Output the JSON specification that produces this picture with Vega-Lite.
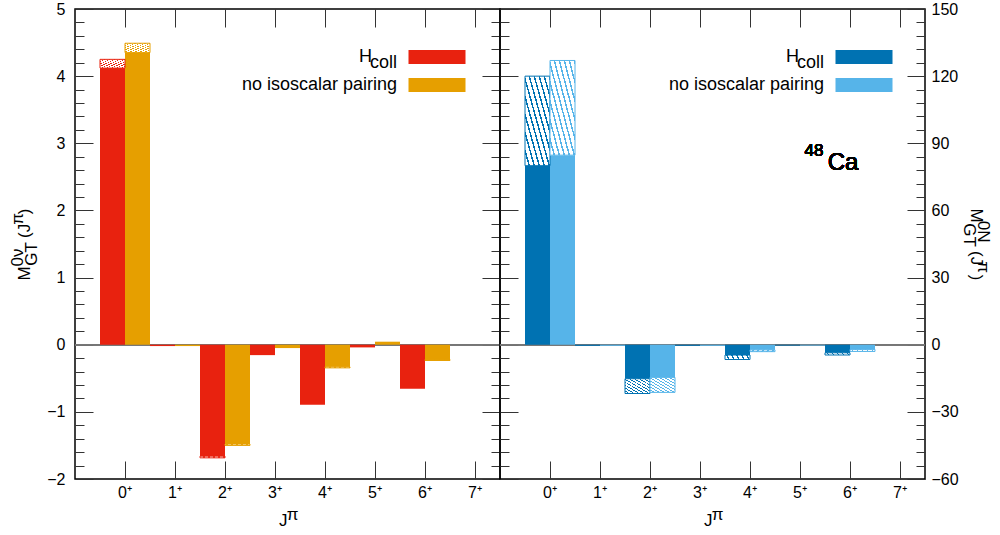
{
  "$schema": "https://vega.github.io/schema/vega-lite/v6.json",
  "background": "white",
  "padding": {"left": 8, "top": 0, "right": 0, "bottom": 5},
  "bounds": "flush",
  "spacing": 0,
  "config": {
    "font": "Liberation Sans",
    "view": {"stroke": "black", "strokeWidth": 1.5},
    "axis": {"domain": false, "grid": false, "labelFontSize": 16, "labelColor": "black", "titleFontSize": 17, "titleFontWeight": "normal", "titleColor": "black", "tickColor": "#333", "tickWidth": 1, "labelOverlap": false, "labelFlush": false},
    "style": {"guide-label": {"lineHeight": 6}}
  },
  "resolve": {"scale": {"color": "independent"}},
  "datasets": {
    "m0v": [
      {"J": "0⁺", "s": "Hcoll", "v": 4.12, "t": 4.25},
      {"J": "0⁺", "s": "no isoscalar pairing", "v": 4.35, "t": 4.49},
      {"J": "1⁺", "s": "Hcoll", "v": -0.02, "t": -0.02},
      {"J": "1⁺", "s": "no isoscalar pairing", "v": -0.02, "t": -0.02},
      {"J": "2⁺", "s": "Hcoll", "v": -1.66, "t": -1.685},
      {"J": "2⁺", "s": "no isoscalar pairing", "v": -1.48, "t": -1.5},
      {"J": "3⁺", "s": "Hcoll", "v": -0.155, "t": -0.155},
      {"J": "3⁺", "s": "no isoscalar pairing", "v": -0.05, "t": -0.05},
      {"J": "4⁺", "s": "Hcoll", "v": -0.895, "t": -0.895},
      {"J": "4⁺", "s": "no isoscalar pairing", "v": -0.33, "t": -0.345},
      {"J": "5⁺", "s": "Hcoll", "v": -0.04, "t": -0.04},
      {"J": "5⁺", "s": "no isoscalar pairing", "v": 0.045, "t": 0.045},
      {"J": "6⁺", "s": "Hcoll", "v": -0.655, "t": -0.655},
      {"J": "6⁺", "s": "no isoscalar pairing", "v": -0.22, "t": -0.235},
      {"J": "7⁺", "s": "Hcoll", "v": 0, "t": 0},
      {"J": "7⁺", "s": "no isoscalar pairing", "v": 0, "t": 0}
    ],
    "m0n": [
      {"J": "0⁺", "s": "Hcoll", "v": 80, "t": 120},
      {"J": "0⁺", "s": "no isoscalar pairing", "v": 84.7, "t": 127},
      {"J": "1⁺", "s": "Hcoll", "v": -0.5, "t": -0.5},
      {"J": "1⁺", "s": "no isoscalar pairing", "v": -0.5, "t": -0.5},
      {"J": "2⁺", "s": "Hcoll", "v": -15.2, "t": -21.8},
      {"J": "2⁺", "s": "no isoscalar pairing", "v": -14.6, "t": -21.3},
      {"J": "3⁺", "s": "Hcoll", "v": -0.5, "t": -0.5},
      {"J": "3⁺", "s": "no isoscalar pairing", "v": -0.5, "t": -0.5},
      {"J": "4⁺", "s": "Hcoll", "v": -4.6, "t": -6.6},
      {"J": "4⁺", "s": "no isoscalar pairing", "v": -2.3, "t": -3.1},
      {"J": "5⁺", "s": "Hcoll", "v": -0.4, "t": -0.4},
      {"J": "5⁺", "s": "no isoscalar pairing", "v": -0.4, "t": -0.4},
      {"J": "6⁺", "s": "Hcoll", "v": -3.6, "t": -4.6},
      {"J": "6⁺", "s": "no isoscalar pairing", "v": -2.1, "t": -3.0},
      {"J": "7⁺", "s": "Hcoll", "v": 0, "t": 0},
      {"J": "7⁺", "s": "no isoscalar pairing", "v": 0, "t": 0}
    ]
  },
  "hconcat": [
    {
      "width": 425,
      "height": 470,
      "data": {"name": "m0v"},
      "resolve": {"axis": {"x": "independent", "y": "independent"}},
      "layer": [
        {
          "mark": {"type": "rule", "color": "#777", "strokeWidth": 1},
          "encoding": {
            "y": {"datum": 0, "type": "quantitative", "scale": {"domain": [-2, 5], "nice": false, "zero": false}, "axis": null}
          }
        },
        {
          "mark": {"type": "bar"},
          "encoding": {
            "x": {"field": "J", "type": "nominal", "sort": null,
              "scale": {"domain": ["0⁺", "1⁺", "2⁺", "3⁺", "4⁺", "5⁺", "6⁺", "7⁺"], "paddingInner": 0, "paddingOuter": 0.25, "align": 1},
              "axis": {"orient": "bottom", "labelAngle": 0, "tickSize": -18, "labelPadding": 23, "title": ["\u200b\u00a0\u00a0π\u200b", "\u200bJ\u00a0\u00a0\u200b"], "titleLineHeight": 6, "titlePadding": 6}},
            "xOffset": {"field": "s", "type": "nominal", "sort": null, "scale": {"domain": ["Hcoll", "no isoscalar pairing"], "paddingInner": 0, "paddingOuter": 0}},
            "y": {"field": "v", "type": "quantitative", "scale": {"domain": [-2, 5], "nice": false, "zero": false},
              "axis": {"orient": "left",
                "values": [-2, -1.8, -1.6, -1.4, -1.2, -1, -0.8, -0.6, -0.4, -0.2, 0, 0.2, 0.4, 0.6, 0.8, 1, 1.2, 1.4, 1.6, 1.8, 2, 2.2, 2.4, 2.6, 2.8, 3, 3.2, 3.4, 3.6, 3.8, 4, 4.2, 4.4, 4.6, 4.8, 5],
                "tickSize": {"condition": {"test": "abs(datum.value - round(datum.value)) < 0.001", "value": -18}, "value": -9},
                "labelExpr": "abs(datum.value - round(datum.value)) < 0.001 ? format(datum.value, 'd') : ''",
                "labelPadding": 28,
                "title": ["\u200b\u00a0\u00a0\u00a00ν\u00a0\u00a0\u00a0\u00a0\u00a0π\u00a0\u200b", "\u200bM\u00a0\u00a0\u00a0\u00a0\u00a0\u00a0(J\u00a0\u00a0)\u200b", "\u200b\u00a0\u00a0\u00a0GT\u00a0\u00a0\u00a0\u00a0\u00a0\u00a0\u00a0\u200b"],
                "titleLineHeight": 7, "titlePadding": 6}},
            "y2": {"datum": 0},
            "color": {"field": "s", "type": "nominal", "scale": {"domain": ["Hcoll", "no isoscalar pairing"], "range": ["#e8220f", "#e69f00"]},
              "legend": {"orient": "none", "legendX": 352, "legendY": 38, "title": null, "labelFontSize": 18, "labelColor": "black",
                "symbolType": "M-2.85,-0.7H2.85V0.7H-2.85Z", "symbolSize": 400, "symbolStrokeWidth": 0, "symbolOpacity": 1,
                "labelAlign": "right", "labelOffset": -50, "rowPadding": 3, "labelLimit": 0,
                "labelExpr": "datum.label === 'Hcoll' ? ['\u200bH\u00a0\u00a0\u00a0\u00a0\u00a0\u200b', '\u200bcoll\u200b'] : datum.label"}}
          }
        },
        {
          "transform": [{"filter": "datum.t != datum.v"}],
          "mark": {"type": "bar", "strokeWidth": 1},
          "encoding": {
            "x": {"field": "J", "type": "nominal", "sort": null,
              "scale": {"domain": ["0⁺", "1⁺", "2⁺", "3⁺", "4⁺", "5⁺", "6⁺", "7⁺"], "paddingInner": 0, "paddingOuter": 0.25, "align": 1},
              "axis": {"orient": "top", "labels": false, "tickSize": -18, "title": null}},
            "xOffset": {"field": "s", "type": "nominal", "sort": null, "scale": {"domain": ["Hcoll", "no isoscalar pairing"], "paddingInner": 0, "paddingOuter": 0}},
            "y": {"field": "v", "type": "quantitative", "scale": {"domain": [-2, 5], "nice": false, "zero": false},
              "axis": {"orient": "right",
                "values": [-2, -1.8, -1.6, -1.4, -1.2, -1, -0.8, -0.6, -0.4, -0.2, 0, 0.2, 0.4, 0.6, 0.8, 1, 1.2, 1.4, 1.6, 1.8, 2, 2.2, 2.4, 2.6, 2.8, 3, 3.2, 3.4, 3.6, 3.8, 4, 4.2, 4.4, 4.6, 4.8, 5],
                "tickSize": {"condition": {"test": "abs(datum.value - round(datum.value)) < 0.001", "value": -18}, "value": -9},
                "labels": false, "title": null}},
            "y2": {"field": "t"},
            "fill": {"condition": {"test": "datum.s === 'Hcoll'", "value": {"gradient": "linear", "x1": 1, "y1": 0, "x2": 0, "y2": 1, "stops": [{"offset":0,"color":"#e8220f"},{"offset":0.03,"color":"#e8220f"},{"offset":0.03,"color":"#fff"},{"offset":0.1,"color":"#fff"},{"offset":0.1,"color":"#e8220f"},{"offset":0.13,"color":"#e8220f"},{"offset":0.13,"color":"#fff"},{"offset":0.2,"color":"#fff"},{"offset":0.2,"color":"#e8220f"},{"offset":0.23,"color":"#e8220f"},{"offset":0.23,"color":"#fff"},{"offset":0.3,"color":"#fff"},{"offset":0.3,"color":"#e8220f"},{"offset":0.33,"color":"#e8220f"},{"offset":0.33,"color":"#fff"},{"offset":0.4,"color":"#fff"},{"offset":0.4,"color":"#e8220f"},{"offset":0.43,"color":"#e8220f"},{"offset":0.43,"color":"#fff"},{"offset":0.5,"color":"#fff"},{"offset":0.5,"color":"#e8220f"},{"offset":0.53,"color":"#e8220f"},{"offset":0.53,"color":"#fff"},{"offset":0.6,"color":"#fff"},{"offset":0.6,"color":"#e8220f"},{"offset":0.63,"color":"#e8220f"},{"offset":0.63,"color":"#fff"},{"offset":0.7,"color":"#fff"},{"offset":0.7,"color":"#e8220f"},{"offset":0.73,"color":"#e8220f"},{"offset":0.73,"color":"#fff"},{"offset":0.8,"color":"#fff"},{"offset":0.8,"color":"#e8220f"},{"offset":0.83,"color":"#e8220f"},{"offset":0.83,"color":"#fff"},{"offset":0.9,"color":"#fff"},{"offset":0.9,"color":"#e8220f"},{"offset":0.93,"color":"#e8220f"},{"offset":0.93,"color":"#fff"},{"offset":1,"color":"#fff"}]}},
              "value": {"gradient": "linear", "x1": 1, "y1": 0, "x2": 0, "y2": 1, "stops": [{"offset":0,"color":"#e69f00"},{"offset":0.03,"color":"#e69f00"},{"offset":0.03,"color":"#fff"},{"offset":0.1,"color":"#fff"},{"offset":0.1,"color":"#e69f00"},{"offset":0.13,"color":"#e69f00"},{"offset":0.13,"color":"#fff"},{"offset":0.2,"color":"#fff"},{"offset":0.2,"color":"#e69f00"},{"offset":0.23,"color":"#e69f00"},{"offset":0.23,"color":"#fff"},{"offset":0.3,"color":"#fff"},{"offset":0.3,"color":"#e69f00"},{"offset":0.33,"color":"#e69f00"},{"offset":0.33,"color":"#fff"},{"offset":0.4,"color":"#fff"},{"offset":0.4,"color":"#e69f00"},{"offset":0.43,"color":"#e69f00"},{"offset":0.43,"color":"#fff"},{"offset":0.5,"color":"#fff"},{"offset":0.5,"color":"#e69f00"},{"offset":0.53,"color":"#e69f00"},{"offset":0.53,"color":"#fff"},{"offset":0.6,"color":"#fff"},{"offset":0.6,"color":"#e69f00"},{"offset":0.63,"color":"#e69f00"},{"offset":0.63,"color":"#fff"},{"offset":0.7,"color":"#fff"},{"offset":0.7,"color":"#e69f00"},{"offset":0.73,"color":"#e69f00"},{"offset":0.73,"color":"#fff"},{"offset":0.8,"color":"#fff"},{"offset":0.8,"color":"#e69f00"},{"offset":0.83,"color":"#e69f00"},{"offset":0.83,"color":"#fff"},{"offset":0.9,"color":"#fff"},{"offset":0.9,"color":"#e69f00"},{"offset":0.93,"color":"#e69f00"},{"offset":0.93,"color":"#fff"},{"offset":1,"color":"#fff"}]}},
            "stroke": {"condition": {"test": "datum.s === 'Hcoll'", "value": "#e8220f"}, "value": "#e69f00"}
          }
        }
      ]
    },
    {
      "width": 425,
      "height": 470,
      "data": {"name": "m0n"},
      "resolve": {"axis": {"x": "independent", "y": "independent"}},
      "layer": [
        {
          "mark": {"type": "rule", "color": "#777", "strokeWidth": 1},
          "encoding": {
            "y": {"datum": 0, "type": "quantitative", "scale": {"domain": [-60, 150], "nice": false, "zero": false}, "axis": null}
          }
        },
        {
          "mark": {"type": "bar"},
          "encoding": {
            "x": {"field": "J", "type": "nominal", "sort": null,
              "scale": {"domain": ["0⁺", "1⁺", "2⁺", "3⁺", "4⁺", "5⁺", "6⁺", "7⁺"], "paddingInner": 0, "paddingOuter": 0.25, "align": 1},
              "axis": {"orient": "bottom", "labelAngle": 0, "tickSize": -18, "labelPadding": 23, "title": ["\u200b\u00a0\u00a0π\u200b", "\u200bJ\u00a0\u00a0\u200b"], "titleLineHeight": 6, "titlePadding": 6}},
            "xOffset": {"field": "s", "type": "nominal", "sort": null, "scale": {"domain": ["Hcoll", "no isoscalar pairing"], "paddingInner": 0, "paddingOuter": 0}},
            "y": {"field": "v", "type": "quantitative", "scale": {"domain": [-60, 150], "nice": false, "zero": false},
              "axis": {"orient": "right",
                "values": [-60, -54, -48, -42, -36, -30, -24, -18, -12, -6, 0, 6, 12, 18, 24, 30, 36, 42, 48, 54, 60, 66, 72, 78, 84, 90, 96, 102, 108, 114, 120, 126, 132, 138, 144, 150],
                "tickSize": {"condition": {"test": "datum.value % 30 === 0", "value": -18}, "value": -9},
                "labelExpr": "datum.value % 30 === 0 ? format(datum.value, 'd') : ''",
                "labelPadding": 24,
                "title": ["\u200b\u00a0\u00a0\u00a00N\u00a0\u00a0\u00a0\u00a0π\u00a0\u00a0\u200b", "\u200bM\u00a0\u00a0\u00a0\u00a0\u00a0\u00a0(J\u00a0\u00a0)\u200b", "\u200b\u00a0\u00a0\u00a0GT\u00a0\u00a0\u00a0\u00a0\u00a0\u00a0\u00a0\u200b"],
                "titleAngle": 90,
                "titleLineHeight": 7, "titlePadding": 1}},
            "y2": {"datum": 0},
            "color": {"field": "s", "type": "nominal", "scale": {"domain": ["Hcoll", "no isoscalar pairing"], "range": ["#0072b2", "#56b4e9"]},
              "legend": {"orient": "none", "legendX": 354, "legendY": 38, "title": null, "labelFontSize": 18, "labelColor": "black",
                "symbolType": "M-2.85,-0.7H2.85V0.7H-2.85Z", "symbolSize": 400, "symbolStrokeWidth": 0, "symbolOpacity": 1,
                "labelAlign": "right", "labelOffset": -50, "rowPadding": 3, "labelLimit": 0,
                "labelExpr": "datum.label === 'Hcoll' ? ['\u200bH\u00a0\u00a0\u00a0\u00a0\u00a0\u200b', '\u200bcoll\u200b'] : datum.label"}}
          }
        },
        {
          "transform": [{"filter": "datum.t != datum.v"}],
          "mark": {"type": "bar", "strokeWidth": 1},
          "encoding": {
            "x": {"field": "J", "type": "nominal", "sort": null,
              "scale": {"domain": ["0⁺", "1⁺", "2⁺", "3⁺", "4⁺", "5⁺", "6⁺", "7⁺"], "paddingInner": 0, "paddingOuter": 0.25, "align": 1},
              "axis": {"orient": "top", "labels": false, "tickSize": -18, "title": null}},
            "xOffset": {"field": "s", "type": "nominal", "sort": null, "scale": {"domain": ["Hcoll", "no isoscalar pairing"], "paddingInner": 0, "paddingOuter": 0}},
            "y": {"field": "v", "type": "quantitative", "scale": {"domain": [-60, 150], "nice": false, "zero": false},
              "axis": {"orient": "left",
                "values": [-60, -54, -48, -42, -36, -30, -24, -18, -12, -6, 0, 6, 12, 18, 24, 30, 36, 42, 48, 54, 60, 66, 72, 78, 84, 90, 96, 102, 108, 114, 120, 126, 132, 138, 144, 150],
                "tickSize": {"condition": {"test": "datum.value % 30 === 0", "value": -18}, "value": -9},
                "labels": false, "title": null}},
            "y2": {"field": "t"},
            "fill": {"condition": {"test": "datum.s === 'Hcoll'", "value": {"gradient": "linear", "x1": 1, "y1": 0, "x2": 0, "y2": 1, "stops": [{"offset":0,"color":"#0072b2"},{"offset":0.03,"color":"#0072b2"},{"offset":0.03,"color":"#fff"},{"offset":0.1,"color":"#fff"},{"offset":0.1,"color":"#0072b2"},{"offset":0.13,"color":"#0072b2"},{"offset":0.13,"color":"#fff"},{"offset":0.2,"color":"#fff"},{"offset":0.2,"color":"#0072b2"},{"offset":0.23,"color":"#0072b2"},{"offset":0.23,"color":"#fff"},{"offset":0.3,"color":"#fff"},{"offset":0.3,"color":"#0072b2"},{"offset":0.33,"color":"#0072b2"},{"offset":0.33,"color":"#fff"},{"offset":0.4,"color":"#fff"},{"offset":0.4,"color":"#0072b2"},{"offset":0.43,"color":"#0072b2"},{"offset":0.43,"color":"#fff"},{"offset":0.5,"color":"#fff"},{"offset":0.5,"color":"#0072b2"},{"offset":0.53,"color":"#0072b2"},{"offset":0.53,"color":"#fff"},{"offset":0.6,"color":"#fff"},{"offset":0.6,"color":"#0072b2"},{"offset":0.63,"color":"#0072b2"},{"offset":0.63,"color":"#fff"},{"offset":0.7,"color":"#fff"},{"offset":0.7,"color":"#0072b2"},{"offset":0.73,"color":"#0072b2"},{"offset":0.73,"color":"#fff"},{"offset":0.8,"color":"#fff"},{"offset":0.8,"color":"#0072b2"},{"offset":0.83,"color":"#0072b2"},{"offset":0.83,"color":"#fff"},{"offset":0.9,"color":"#fff"},{"offset":0.9,"color":"#0072b2"},{"offset":0.93,"color":"#0072b2"},{"offset":0.93,"color":"#fff"},{"offset":1,"color":"#fff"}]}},
              "value": {"gradient": "linear", "x1": 1, "y1": 0, "x2": 0, "y2": 1, "stops": [{"offset":0,"color":"#56b4e9"},{"offset":0.03,"color":"#56b4e9"},{"offset":0.03,"color":"#fff"},{"offset":0.1,"color":"#fff"},{"offset":0.1,"color":"#56b4e9"},{"offset":0.13,"color":"#56b4e9"},{"offset":0.13,"color":"#fff"},{"offset":0.2,"color":"#fff"},{"offset":0.2,"color":"#56b4e9"},{"offset":0.23,"color":"#56b4e9"},{"offset":0.23,"color":"#fff"},{"offset":0.3,"color":"#fff"},{"offset":0.3,"color":"#56b4e9"},{"offset":0.33,"color":"#56b4e9"},{"offset":0.33,"color":"#fff"},{"offset":0.4,"color":"#fff"},{"offset":0.4,"color":"#56b4e9"},{"offset":0.43,"color":"#56b4e9"},{"offset":0.43,"color":"#fff"},{"offset":0.5,"color":"#fff"},{"offset":0.5,"color":"#56b4e9"},{"offset":0.53,"color":"#56b4e9"},{"offset":0.53,"color":"#fff"},{"offset":0.6,"color":"#fff"},{"offset":0.6,"color":"#56b4e9"},{"offset":0.63,"color":"#56b4e9"},{"offset":0.63,"color":"#fff"},{"offset":0.7,"color":"#fff"},{"offset":0.7,"color":"#56b4e9"},{"offset":0.73,"color":"#56b4e9"},{"offset":0.73,"color":"#fff"},{"offset":0.8,"color":"#fff"},{"offset":0.8,"color":"#56b4e9"},{"offset":0.83,"color":"#56b4e9"},{"offset":0.83,"color":"#fff"},{"offset":0.9,"color":"#fff"},{"offset":0.9,"color":"#56b4e9"},{"offset":0.93,"color":"#56b4e9"},{"offset":0.93,"color":"#fff"},{"offset":1,"color":"#fff"}]}},
            "stroke": {"condition": {"test": "datum.s === 'Hcoll'", "value": "#0072b2"}, "value": "#56b4e9"}
          }
        },
        {
          "mark": {"type": "text", "fontSize": 24, "fontWeight": "normal", "align": "center", "baseline": "alphabetic", "dx": -7, "fill": "black"},
          "encoding": {
            "x": {"datum": "6⁺", "type": "nominal", "axis": null},
            "y": {"datum": 78, "type": "quantitative", "axis": null},
            "text": {"value": "Ca"}
          }
        },
        {
          "mark": {"type": "text", "fontSize": 17, "fontWeight": "normal", "align": "center", "baseline": "alphabetic", "dx": -36, "dy": -14, "fill": "black"},
          "encoding": {
            "x": {"datum": "6⁺", "type": "nominal", "axis": null},
            "y": {"datum": 78, "type": "quantitative", "axis": null},
            "text": {"value": "48"}
          }
        }
      ]
    }
  ]
}
